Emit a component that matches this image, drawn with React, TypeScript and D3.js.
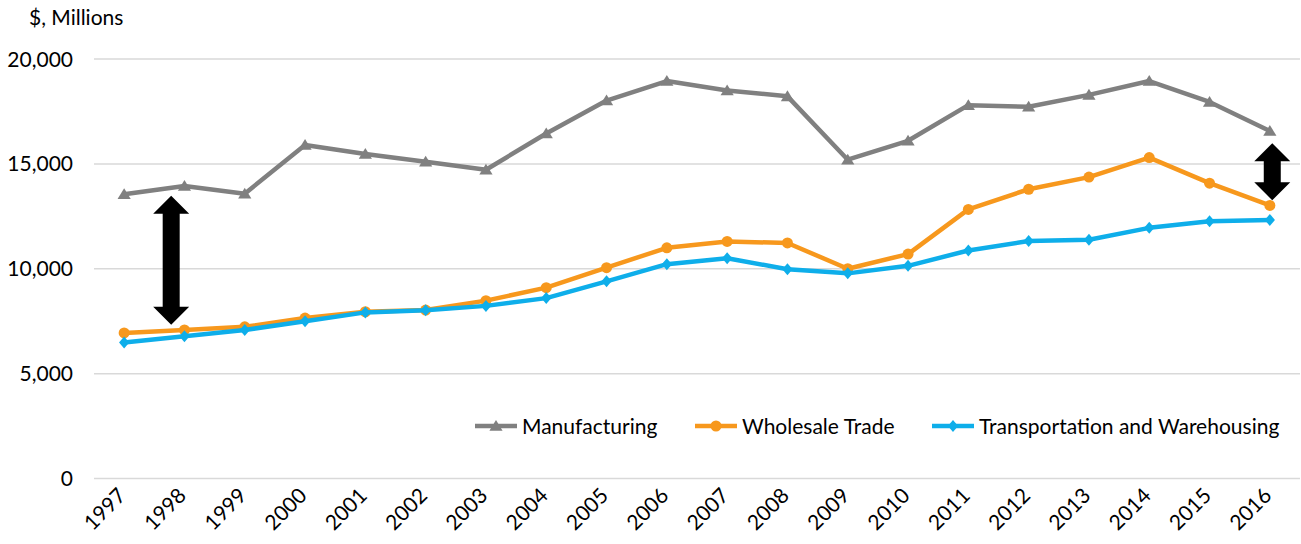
import React from "react";
import * as d3 from "d3";

const years = [1997,1998,1999,2000,2001,2002,2003,2004,2005,2006,2007,2008,2009,2010,2011,2012,2013,2014,2015,2016];
const manufacturing = [13550,13950,13580,15900,15470,15100,14720,16450,18020,18950,18500,18220,15200,16100,17800,17720,18290,18950,17950,16570];
const wholesale = [6940,7080,7230,7650,7950,8030,8480,9100,10050,11000,11300,11230,10000,10700,12830,13790,14370,15300,14080,13020];
const transport = [6480,6780,7080,7500,7920,8020,8230,8600,9400,10220,10500,9980,9780,10140,10870,11320,11380,11950,12260,12330];
const yTicks = [0,5000,10000,15000,20000];
const seriesNames = ["Manufacturing","Wholesale Trade","Transportation and Warehousing"];
const seriesColors = ["#808080","#F7981D","#0EAEEA"];
const arrowYears = [1997.78, 2016.04];
const arrowFrom = [13480, 15980];
const arrowTo = [7330, 13270];

const W = 1301, H = 544;
const FONT = "Lato, 'Noto Sans', sans-serif";
const FS = 21;

function marker(kind: number, x: number, y: number, color: string, key: string) {
  if (kind === 0) {
    const s = 6;
    return <path key={key} d={`M${x},${y - s}L${x + s * 1.1},${y + s * 0.8}L${x - s * 1.1},${y + s * 0.8}Z`} fill={color} />;
  }
  if (kind === 1) return <circle key={key} cx={x} cy={y} r={5.5} fill={color} />;
  const s = 6;
  return <path key={key} d={`M${x},${y - s}L${x + s * 0.85},${y}L${x},${y + s}L${x - s * 0.85},${y}Z`} fill={color} />;
}

function doubleArrow(x: number, y1: number, y2: number, key: string) {
  const sw = 8.5, hw = 18, hl = 18;
  const d = `M${x},${y1}L${x + hw},${y1 + hl}L${x + sw},${y1 + hl}L${x + sw},${y2 - hl}L${x + hw},${y2 - hl}L${x},${y2}L${x - hw},${y2 - hl}L${x - sw},${y2 - hl}L${x - sw},${y1 + hl}L${x - hw},${y1 + hl}Z`;
  return <path key={key} d={d} fill="#000" />;
}

export default function App() {
  const left = 94, right = 1300, top = 59, bottom = 478.5;
  const x = d3.scaleLinear().domain([1996.5, 2016.5]).range([left, right]);
  const y = d3.scaleLinear().domain([0, 20000]).range([bottom, top]);
  const line = d3.line<number>().x((_, i) => x(years[i])).y(d => y(d));
  const data = [manufacturing, wholesale, transport];
  const fmt = d3.format(",");
  const legendX = [475, 695, 932];

  return (
    <svg width={W} height={H} style={{ position: "absolute", left: 0, top: 0, background: "#fff" }} fontFamily={FONT}>
      <text x={29} y={25} fontSize={FS} fill="#000">$, Millions</text>
      {yTicks.map(t => (
        <g key={t}>
          <line x1={left} x2={right} y1={y(t)} y2={y(t)} stroke="#d9d9d9" strokeWidth={1.5} />
          <text x={73} y={y(t)} dy="0.36em" textAnchor="end" fontSize={FS} fill="#000">{fmt(t)}</text>
        </g>
      ))}
      {years.map(yr => (
        <text key={yr} transform={`translate(${x(yr) + 3},${497}) rotate(-45)`} textAnchor="end" fontSize={FS} fill="#000">{yr}</text>
      ))}
      {data.map((vals, si) => (
        <g key={si}>
          <path d={line(vals) || ""} fill="none" stroke={seriesColors[si]} strokeWidth={4.5} strokeLinejoin="round" />
          {vals.map((v, i) => marker(si, x(years[i]), y(v), seriesColors[si], `${si}-${i}`))}
        </g>
      ))}
      {arrowYears.map((ay, i) => doubleArrow(x(ay), y(arrowFrom[i]), y(arrowTo[i]), `a${i}`))}
      {seriesNames.map((n, si) => (
        <g key={n}>
          <line x1={legendX[si]} x2={legendX[si] + 42} y1={426} y2={426} stroke={seriesColors[si]} strokeWidth={4.5} />
          {marker(si, legendX[si] + 21, 426, seriesColors[si], `l${si}`)}
          <text x={legendX[si] + 47} y={426} dy="0.36em" fontSize={FS} fill="#000">{n}</text>
        </g>
      ))}
    </svg>
  );
}
